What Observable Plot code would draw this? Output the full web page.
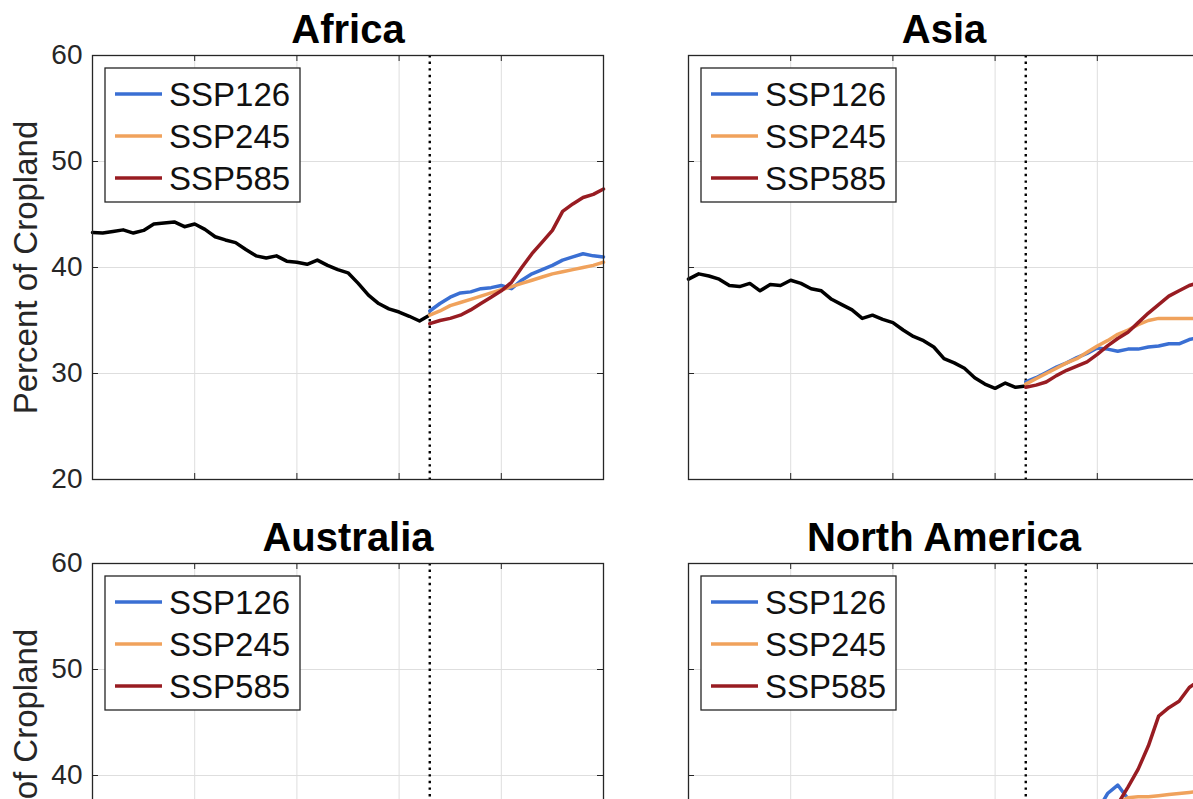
<!DOCTYPE html>
<html>
<head>
<meta charset="utf-8">
<script src="https://cdn.jsdelivr.net/npm/d3@7"></script>
<script src="https://cdn.jsdelivr.net/npm/@observablehq/plot@0.6"></script>
<style>
  html, body { margin: 0; padding: 0; background: #fff; }
  #wrap { position: relative; width: 1193px; height: 799px; overflow: hidden; background: #fff; }
  .panel { position: absolute; width: 620px; height: 500px; }
</style>
</head>
<body>
<div id="wrap"></div>
<script>
// ---------------- data ----------------
const regions = ["Africa", "Asia", "Australia", "North America"];
const scenarios = ["SSP126", "SSP245", "SSP585"];
const scenarioColors = ["#3a6fd3", "#f0a25c", "#981c22"];
const yLabel = "Percent of Cropland";
const yTicks = [20, 30, 40, 50, 60];
const xTicks = [1850, 1900, 1950, 2000, 2050, 2100];
const transitionYear = 2015;

const histYears = [1850, 1855, 1860, 1865, 1870, 1875, 1880, 1885, 1890, 1895,
  1900, 1905, 1910, 1915, 1920, 1925, 1930, 1935, 1940, 1945,
  1950, 1955, 1960, 1965, 1970, 1975, 1980, 1985, 1990, 1995,
  2000, 2005, 2010, 2014];
const sspYears = [2015, 2020, 2025, 2030, 2035, 2040, 2045, 2050, 2055,
  2060, 2065, 2070, 2075, 2080, 2085, 2090, 2095, 2100];

const africaHist = [43.3, 43.25, 43.4, 43.55, 43.25, 43.5, 44.1, 44.2, 44.3, 43.85,
  44.1, 43.6, 42.9, 42.6, 42.35, 41.7, 41.1, 40.9, 41.1, 40.6,
  40.5, 40.3, 40.7, 40.2, 39.8, 39.5, 38.5, 37.4, 36.6, 36.1,
  35.8, 35.4, 34.95, 35.4];
const africaSSP126 = [35.9, 36.6, 37.2, 37.6, 37.7, 38.0, 38.1, 38.3, 38.0, 38.8, 39.4, 39.8, 40.2, 40.7, 41.0, 41.3, 41.1, 41.0];
const africaSSP245 = [35.5, 35.9, 36.4, 36.7, 37.0, 37.3, 37.6, 37.9, 38.2, 38.5, 38.8, 39.1, 39.4, 39.6, 39.8, 40.0, 40.2, 40.5];
const africaSSP585 = [34.7, 35.0, 35.2, 35.5, 36.0, 36.6, 37.2, 37.8, 38.6, 40.0, 41.3, 42.4, 43.5, 45.3, 46.0, 46.6, 46.9, 47.4];

const asiaHist = [38.9, 39.4, 39.2, 38.9, 38.3, 38.2, 38.5, 37.8, 38.4, 38.3,
  38.8, 38.5, 38.0, 37.8, 37.0, 36.5, 36.0, 35.2, 35.5, 35.1,
  34.8, 34.1, 33.5, 33.1, 32.5, 31.4, 31.0, 30.5, 29.6, 29.0,
  28.6, 29.1, 28.7, 28.8];
const asiaSSP126 = [29.2, 29.6, 30.1, 30.6, 31.0, 31.5, 31.9, 32.4, 32.3, 32.1, 32.3, 32.3, 32.5, 32.6, 32.8, 32.8, 33.2, 33.4];
const asiaSSP245 = [29.0, 29.5, 30.0, 30.5, 31.0, 31.4, 32.0, 32.6, 33.1, 33.7, 34.1, 34.6, 35.0, 35.2, 35.2, 35.2, 35.2, 35.2];
const asiaSSP585 = [28.7, 28.9, 29.2, 29.8, 30.3, 30.7, 31.1, 31.8, 32.6, 33.3, 33.9, 34.8, 35.7, 36.5, 37.3, 37.8, 38.3, 38.6];

// Australia: every value lies below the cropped bottom edge of the picture (under ~37.5); estimated.
const australiaHist = [30.5, 30.6, 30.8, 31.0, 31.2, 31.4, 31.5, 31.8, 32.0, 32.1,
  32.3, 32.4, 32.6, 32.8, 33.0, 33.1, 33.3, 33.4, 33.5, 33.6,
  33.7, 33.8, 33.9, 34.0, 34.1, 34.2, 34.2, 34.3, 34.3, 34.4,
  34.4, 34.5, 34.5, 34.5];
const australiaSSP126 = [34.5, 34.6, 34.7, 34.8, 34.9, 35.0, 35.0, 35.1, 35.1, 35.2, 35.2, 35.3, 35.3, 35.4, 35.4, 35.5, 35.5, 35.6];
const australiaSSP245 = [34.4, 34.5, 34.6, 34.7, 34.8, 34.9, 35.0, 35.0, 35.1, 35.2, 35.3, 35.3, 35.4, 35.5, 35.5, 35.6, 35.7, 35.7];
const australiaSSP585 = [34.3, 34.4, 34.5, 34.6, 34.8, 35.0, 35.2, 35.4, 35.6, 35.8, 36.0, 36.2, 36.4, 36.6, 36.8, 37.0, 37.1, 37.2];

// North America: historical line is below the cropped bottom edge; estimated.
const northAmericaHist = [26.0, 26.5, 27.0, 27.6, 28.1, 28.7, 29.2, 29.8, 30.3, 30.8,
  31.2, 31.6, 32.0, 32.3, 32.6, 32.8, 33.0, 33.1, 33.2, 33.2,
  33.3, 33.3, 33.3, 33.2, 33.2, 33.1, 33.1, 33.0, 33.0, 32.9,
  32.9, 32.8, 32.8, 32.8];
const northAmericaSSP126 = [32.9, 33.3, 33.8, 34.3, 34.9, 35.5, 36.0, 36.6, 38.3, 39.1, 37.8, 37.0, 36.9, 37.0, 37.1, 37.1, 37.2, 37.2];
const northAmericaSSP245 = [32.8, 33.1, 33.5, 33.9, 34.4, 34.9, 35.5, 36.2, 36.9, 37.4, 37.9, 38.0, 38.0, 38.1, 38.2, 38.3, 38.4, 38.5];
const northAmericaSSP585 = [32.7, 32.9, 33.1, 33.3, 33.6, 34.0, 34.6, 35.4, 36.3, 37.3, 38.9, 40.6, 42.8, 45.6, 46.4, 47.0, 48.3, 49.0];

// ---------------- drawing ----------------
const FONT = "'Liberation Sans', Arial, Helvetica, sans-serif";
const W = 620, H = 500, ML = 92, MR = 17, MT = 55, MB = 21;
const FW = W - ML - MR, FH = H - MT - MB;

function legendMark(index, scales, values, dims) {
  const g = d3.create("svg:g").attr("font-family", FONT).attr("text-anchor", "start");
  const x0 = dims.marginLeft, y0 = dims.marginTop;
  g.append("rect").attr("x", x0 + 13).attr("y", y0 + 13)
    .attr("width", 195).attr("height", 134)
    .attr("fill", "#fff").attr("stroke", "#262626").attr("stroke-width", 1.3);
  scenarios.forEach((s, k) => {
    const cy = y0 + 39 + k * 42;
    g.append("line").attr("x1", x0 + 23).attr("x2", x0 + 70)
      .attr("y1", cy).attr("y2", cy)
      .attr("stroke", scenarioColors[k]).attr("stroke-width", 3.5);
    g.append("text").attr("x", x0 + 77).attr("y", cy).attr("dy", "0.36em")
      .attr("text-anchor", "start")
      .attr("font-size", 33).attr("fill", "#111").text(s);
  });
  return g.node();
}

function panel(name, hist, ssp, col, row) {
  const histRows = histYears.map((year, i) => ({year, value: hist[i]}));
  const sspRows = scenarios.flatMap((s, k) =>
    sspYears.map((year, i) => ({year, value: ssp[k][i], scenario: s})));
  const marks = [
    Plot.gridY(yTicks, {stroke: "#dedede", strokeOpacity: 1}),
    Plot.gridX(xTicks.slice(1, -1), {stroke: "#dedede", strokeOpacity: 1}),
    Plot.ruleY(yTicks, {stroke: "#262626", insetRight: FW - 6}),
    Plot.ruleY(yTicks, {stroke: "#262626", insetLeft: FW - 6}),
    Plot.ruleX(xTicks, {stroke: "#262626", insetTop: FH - 6}),
    Plot.ruleX(xTicks, {stroke: "#262626", insetBottom: FH - 6}),
    Plot.ruleX([transitionYear], {stroke: "#000", strokeWidth: 2.4, strokeDasharray: "2.4,4.2"}),
    Plot.line(histRows, {x: "year", y: "value", stroke: "#000", strokeWidth: 3.5}),
    Plot.line(sspRows, {x: "year", y: "value", z: "scenario", stroke: "scenario", strokeWidth: 3.5}),
    Plot.frame({stroke: "#262626", strokeWidth: 1.3}),
    Plot.text([name], {text: d => d, frameAnchor: "top", lineAnchor: "middle", textAnchor: "middle",
      dy: -25, fontSize: 40, fontWeight: "bold", fill: "#000"}),
    legendMark
  ];
  if (col === 0) {
    marks.push(Plot.axisY(yTicks, {anchor: "left", tickSize: 0, tickPadding: 10, fontSize: 28, color: "#262626", label: null}));
    marks.push(Plot.text([yLabel], {text: d => d, frameAnchor: "left", textAnchor: "middle", lineAnchor: "middle",
      rotate: -90, dx: -66, fontSize: 33, fill: "#262626"}));
  }
  const chart = Plot.plot({
    width: W, height: H,
    marginLeft: ML, marginRight: MR, marginTop: MT, marginBottom: MB,
    style: {fontFamily: FONT, background: "transparent", overflow: "visible"},
    x: {domain: [1850, 2100], axis: null},
    y: {domain: [20, 60], axis: null},
    color: {domain: scenarios, range: scenarioColors},
    marks
  });
  const div = document.createElement("div");
  div.className = "panel";
  div.style.left = (col * 596) + "px";
  div.style.top = (row * 508) + "px";
  div.appendChild(chart);
  document.getElementById("wrap").appendChild(div);
}

panel(regions[0], africaHist, [africaSSP126, africaSSP245, africaSSP585], 0, 0);
panel(regions[1], asiaHist, [asiaSSP126, asiaSSP245, asiaSSP585], 1, 0);
panel(regions[2], australiaHist, [australiaSSP126, australiaSSP245, australiaSSP585], 0, 1);
panel(regions[3], northAmericaHist, [northAmericaSSP126, northAmericaSSP245, northAmericaSSP585], 1, 1);
</script>
</body>
</html>
